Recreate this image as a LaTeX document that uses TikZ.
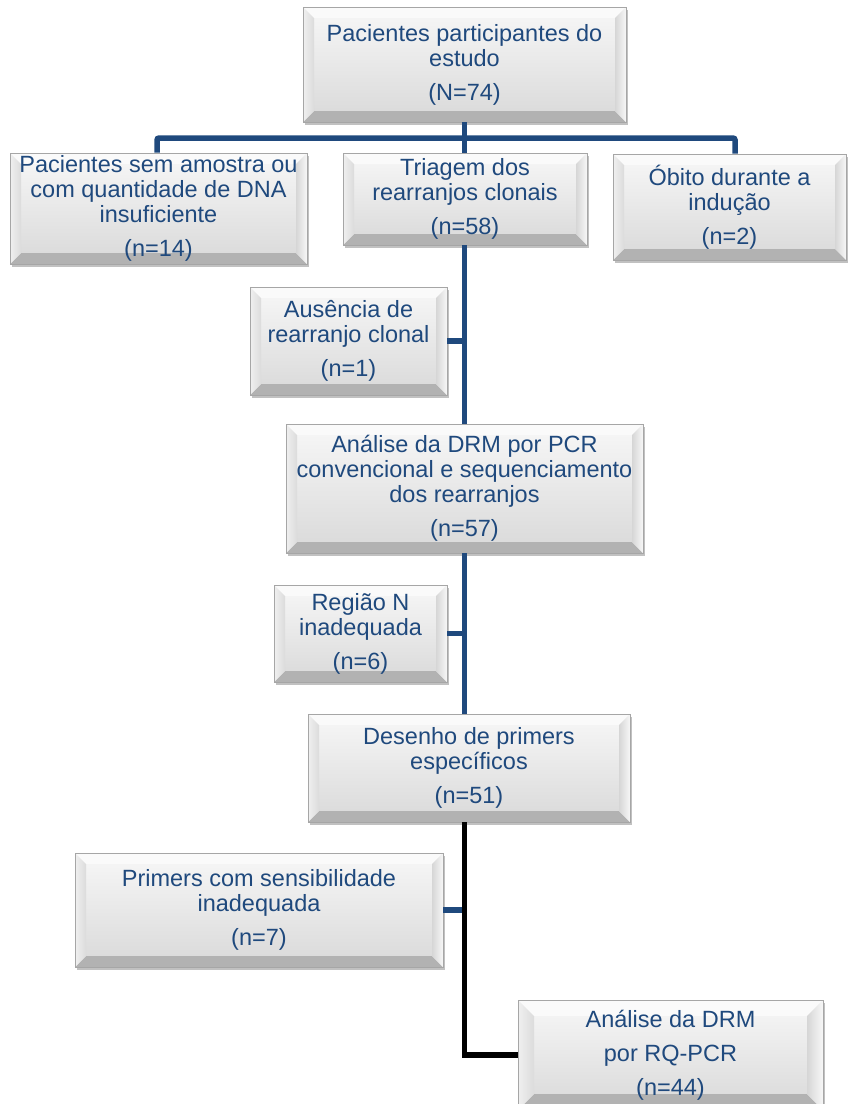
\documentclass[tikz,border=0pt]{standalone}
\usepackage{fontspec}
\setmainfont{Liberation Sans}
\usetikzlibrary{shadows}
\definecolor{txtblue}{HTML}{1F497D}
\definecolor{lineblue}{HTML}{1F497D}
\def\bvd{11pt}
\tikzset{
  bevel depth/.code={\def\bvd{#1}},
  bevel/.style={rectangle, inner sep=0pt, align=center, text=txtblue,
    font=\fontsize{23.5}{25}\selectfont,
    top color=black!3, bottom color=black!15,
    draw=black!35, line width=0.7pt,
    drop shadow={shadow xshift=1.5pt, shadow yshift=-3pt, opacity=0.35, fill=black!70},
    path picture={
      \fill[black!2] (path picture bounding box.north west) -- (path picture bounding box.north east)
        -- ([xshift=-\bvd,yshift=-\bvd]path picture bounding box.north east)
        -- ([xshift=\bvd,yshift=-\bvd]path picture bounding box.north west) -- cycle;
      \fill[black!30] (path picture bounding box.south west) -- (path picture bounding box.south east)
        -- ([xshift=-\bvd,yshift=\bvd]path picture bounding box.south east)
        -- ([xshift=\bvd,yshift=\bvd]path picture bounding box.south west) -- cycle;
      \shade[left color=black!6, right color=black!14] (path picture bounding box.north west)
        -- ([xshift=\bvd,yshift=-\bvd]path picture bounding box.north west)
        -- ([xshift=\bvd,yshift=\bvd]path picture bounding box.south west)
        -- (path picture bounding box.south west) -- cycle;
      \shade[left color=black!16, right color=black!3] (path picture bounding box.north east)
        -- ([xshift=-\bvd,yshift=-\bvd]path picture bounding box.north east)
        -- ([xshift=-\bvd,yshift=\bvd]path picture bounding box.south east)
        -- (path picture bounding box.south east) -- cycle;
    }},
  conn/.style={draw=lineblue, line width=5.5pt},
  connk/.style={draw=black, line width=5.5pt},
}
\begin{document}
\begin{tikzpicture}[x=1pt,y=-1pt]
\useasboundingbox (0,0) rectangle (848,1104);
\clip (0,0) rectangle (848,1104);
\coordinate (tk) at (464.5,0);
\coordinate (barL) at (157,138);
\coordinate (barR) at (735,138);

\node[bevel, minimum width=323pt, minimum height=115pt] (n1) at (464.5,64.5)
  {Pacientes participantes do\\estudo\\[9pt](N=74)};
\node[bevel, minimum width=297pt, minimum height=111pt] (n2) at (158.5,208.5)
  {Pacientes sem amostra ou\\com quantidade de DNA\\insuficiente\\[9pt](n=14)};
\node[bevel, minimum width=244pt, minimum height=92pt] (n3) at (465,199)
  {Triagem dos\\rearranjos clonais\\[9pt](n=58)};
\node[bevel, minimum width=233pt, minimum height=106pt] (n4) at (729.5,207)
  {Óbito durante a\\indução\\[9pt](n=2)};
\node[bevel, minimum width=197pt, minimum height=108pt] (n5) at (348.5,341)
  {Ausência de\\rearranjo clonal\\[9pt](n=1)};
\node[bevel, minimum width=357pt, minimum height=129pt] (n6) at (464.5,488.5)
  {Análise da DRM por PCR\\convencional e sequenciamento\\dos rearranjos\\[9pt](n=57)};
\node[bevel, minimum width=173pt, minimum height=97pt] (n7) at (360.5,633.5)
  {Região N\\inadequada\\[9pt](n=6)};
\node[bevel, minimum width=322pt, minimum height=108pt] (n8) at (469,768)
  {Desenho de primers\\específicos\\[9pt](n=51)};
\node[bevel, minimum width=368pt, minimum height=114pt] (n9) at (259,910)
  {Primers com sensibilidade\\inadequada\\[9pt](n=7)};
\node[bevel, bevel depth=16pt, minimum width=305pt, minimum height=110pt] (n10) at (670.5,1055)
  {Análise da DRM\\[9pt]por RQ-PCR\\[9pt](n=44)};

\draw[conn] (tk |- n1.south) -- (tk |- n3.north);
\draw[conn, rounded corners=2pt] (barL |- n2.north) -- (barL) -- (barR) -- (barR |- n4.north);
\draw[conn] (tk |- n3.south) -- (tk |- n6.north);
\draw[conn] (n5.east) -- (n5.east -| tk);
\draw[conn] (tk |- n6.south) -- (tk |- n8.north);
\draw[conn] (n7.east) -- (n7.east -| tk);
\draw[conn] (n9.east) -- (n9.east -| tk);
\draw[connk] (tk |- n8.south) -- (tk |- n10.west) -- (n10.west);
\end{tikzpicture}
\end{document}
